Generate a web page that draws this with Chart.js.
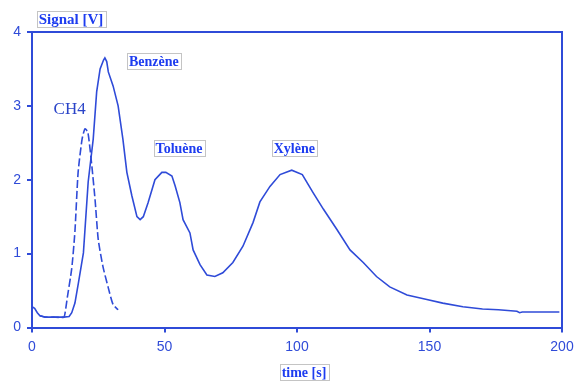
<!DOCTYPE html>
<html>
<head>
<meta charset="utf-8">
<script src="https://cdn.jsdelivr.net/npm/chart.js@4"></script>
<style>
html,body{margin:0;padding:0;background:#fff;}
#wrap{width:576px;height:381px;position:relative;}
</style>
</head>
<body>
<div id="wrap"><canvas id="c" width="576" height="381"></canvas></div>
<script>
// Main chromatogram trace (solid)
const mainTime = [0, 1, 2, 3, 5, 8, 12, 14, 15, 16.2, 17.5, 19.4, 21.2, 23.1, 24.4, 25.7, 27, 27.5, 28.2, 28.8, 30.6, 32.5, 34.3, 35.8, 37.7, 39.6, 40.8, 42, 43.8, 46.4, 49, 50.5, 52.8, 54, 55.8, 57, 59.6, 60.8, 63.4, 66, 69, 72, 75.8, 79.6, 83.4, 86, 89.8, 93.6, 98, 102, 106, 110, 115, 120, 125, 130, 135, 141.5, 149, 155, 162.6, 170, 176, 183, 184, 185, 190, 199];
const mainSignal = [0.28, 0.26, 0.2, 0.16, 0.14, 0.14, 0.14, 0.15, 0.2, 0.33, 0.6, 1.01, 1.97, 2.55, 3.19, 3.5, 3.62, 3.65, 3.6, 3.46, 3.27, 3.0, 2.55, 2.1, 1.78, 1.5, 1.46, 1.5, 1.69, 2.0, 2.1, 2.1, 2.05, 1.92, 1.69, 1.46, 1.28, 1.05, 0.85, 0.71, 0.69, 0.74, 0.88, 1.1, 1.42, 1.7, 1.91, 2.07, 2.13, 2.07, 1.83, 1.6, 1.33, 1.05, 0.88, 0.69, 0.55, 0.44, 0.38, 0.33, 0.28, 0.25, 0.24, 0.22, 0.2, 0.21, 0.21, 0.21];
// CH4 trace (dashed)
const ch4Time = [3, 5, 8, 12, 12.5, 13.3, 15, 16.2, 17.4, 18.9, 20, 21.1, 22.6, 23.8, 25, 26.8, 28.7, 30.6, 32.5];
const ch4Signal = [0.16, 0.14, 0.14, 0.14, 0.2, 0.4, 0.8, 1.3, 2.1, 2.55, 2.69, 2.64, 2.18, 1.73, 1.19, 0.82, 0.55, 0.31, 0.24];
// Axis ticks
const xTicks = [0, 50, 100, 150, 200];
const yTicks = [0, 1, 2, 3, 4];
// Peak labels
const peakNames = ['Benzène', 'Toluène', 'Xylène'];
const peakLabelTime = [46, 55.5, 99];
const peakLabelSignal = [3.61, 2.43, 2.43];
const ch4Name = 'CH4';
const ch4LabelTime = [14.2];
const ch4LabelSignal = [2.95];

const BLUE = '#2f4bd8';
const TEXT = '#1d3cf0';

function pts(xs, ys){ return xs.map((x,i)=>({x:x, y:ys[i]})); }

const overlay = {
  id:'overlay',
  afterDraw(chart){
    const {ctx, chartArea:a, scales:{x, y}} = chart;
    ctx.save();
    // frame
    ctx.strokeStyle = BLUE; ctx.lineWidth = 2;
    ctx.beginPath();
    ctx.moveTo(a.left, a.top); ctx.lineTo(a.right, a.top); ctx.lineTo(a.right, a.bottom);
    ctx.stroke();
    function boxText(t, cx, cy, font){
      ctx.font = font;
      const w = ctx.measureText(t).width;
      const bw = Math.round(w + 4), bh = 16;
      const l = Math.round(cx - bw/2), tp = Math.round(cy - bh/2);
      ctx.fillStyle = '#fff';
      ctx.fillRect(l, tp, bw, bh);
      ctx.strokeStyle = '#c4c4c4'; ctx.lineWidth = 1;
      ctx.strokeRect(l+0.5, tp+0.5, bw, bh);
      ctx.fillStyle = TEXT; ctx.textAlign='center'; ctx.textBaseline='middle';
      ctx.fillText(t, cx, cy+1.5);
    }
    const f = 'bold 14px "Liberation Serif"';
    peakNames.forEach((n,i)=>{
      boxText(n, x.getPixelForValue(peakLabelTime[i]), y.getPixelForValue(peakLabelSignal[i]), f);
    });
    ctx.font = '17px "Liberation Serif"';
    ctx.fillStyle = '#2a44c8'; ctx.textAlign='center'; ctx.textBaseline='middle';
    ctx.fillText(ch4Name, x.getPixelForValue(ch4LabelTime[0]), y.getPixelForValue(ch4LabelSignal[0]));
    boxText('Signal [V]', 71, 19, 'bold 15px "Liberation Serif"');
    boxText('time [s]', 304, 372, f);
    ctx.restore();
  }
};

new Chart(document.getElementById('c'), {
  type:'line',
  data:{
    datasets:[
      {data:pts(mainTime, mainSignal), borderColor:BLUE, borderWidth:1.6, pointRadius:0, tension:0, fill:false},
      {data:pts(ch4Time, ch4Signal), borderColor:BLUE, borderWidth:1.6, borderDash:[8,3], pointRadius:0, tension:0.2, fill:false}
    ]
  },
  options:{
    responsive:false, animation:false,
    layout:{padding:{left:0, right:14, top:32, bottom:0}},
    plugins:{legend:{display:false}, tooltip:{enabled:false}},
    scales:{
      x:{type:'linear', min:0, max:200,
        afterBuildTicks(s){ s.ticks = xTicks.map(v=>({value:v})); },
        afterFit(s){ s.height = 53.5; s.paddingLeft = 0; s.paddingRight = 0; },
        grid:{drawOnChartArea:false, drawTicks:true, tickLength:5, color:BLUE, lineWidth:2},
        border:{color:BLUE, width:2},
        ticks:{color:BLUE, font:{family:'"Liberation Sans"', size:14}, padding:6, maxRotation:0}
      },
      y:{type:'linear', min:0, max:4,
        afterBuildTicks(s){ s.ticks = yTicks.map(v=>({value:v})); },
        afterFit(s){ s.width = 32; s.paddingTop = 0; s.paddingBottom = 0; },
        grid:{drawOnChartArea:false, drawTicks:true, tickLength:5, color:BLUE, lineWidth:2},
        border:{color:BLUE, width:2},
        ticks:{color:BLUE, font:{family:'"Liberation Sans"', size:14}, padding:6}
      }
    }
  },
  plugins:[overlay]
});
</script>
</body>
</html>
